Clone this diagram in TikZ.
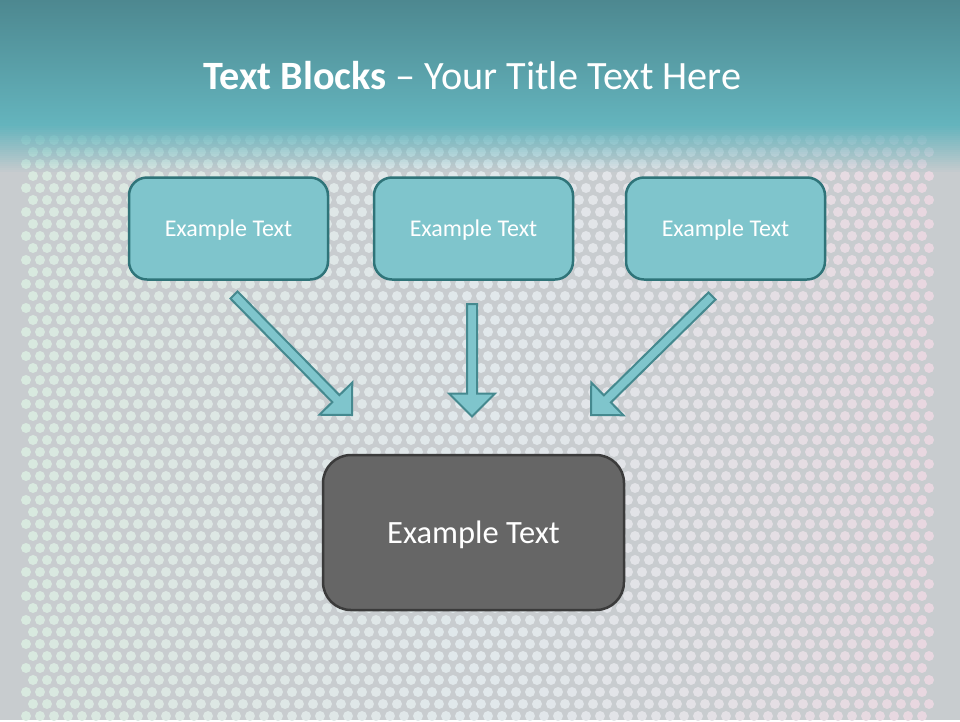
\documentclass[tikz,border=0pt]{standalone}
\usepackage{fontspec}
\setmainfont{Carlito}
\usetikzlibrary{calc,positioning}
\definecolor{bartop}{HTML}{4D8890}
\definecolor{barbot}{HTML}{64B4BD}
\definecolor{slidebg}{HTML}{C8CCCF}
\definecolor{dotmint}{HTML}{D7E9DE}
\definecolor{dotpink}{HTML}{E9D5DF}
\definecolor{dotblue}{HTML}{E1EDF2}
\definecolor{boxfill}{HTML}{7FC5CC}
\definecolor{boxline}{HTML}{2F7479}
\definecolor{arrowline}{HTML}{45898F}
\definecolor{darkfill}{HTML}{666666}
\definecolor{darkline}{HTML}{3B3B3B}

% block arrow from #1 (tail centre) to #2 (tip)
\newcommand{\blockarrow}[2]{%
  \filldraw[arrowbody] ($(#1)!5pt!90:(#2)$)
    -- ($(#2)!23pt!(#1)!5pt!-90:(#1)$)
    -- ($(#2)!23pt!(#1)!23pt!-90:(#1)$)
    -- (#2)
    -- ($(#2)!23pt!(#1)!23pt!90:(#1)$)
    -- ($(#2)!23pt!(#1)!5pt!90:(#1)$)
    -- ($(#1)!5pt!-90:(#2)$) -- cycle;}

\begin{document}
\begin{tikzpicture}[x=1pt, y=-1pt,
  block/.style={draw=boxline, line width=2.5pt, fill=boxfill, rounded corners=18pt, minimum width=199pt, minimum height=102pt, text depth=0pt, text=white, font=\fontsize{24}{28}\selectfont},
  mainblock/.style={draw=darkline, line width=2.5pt, fill=darkfill, rounded corners=28pt, minimum width=301pt, minimum height=155pt, text depth=0pt, text=white, font=\fontsize{32.5}{38}\selectfont},
  arrowbody/.style={draw=arrowline, line width=2pt, fill=boxfill, line join=miter}
]
% background
\fill[slidebg] (0,0) rectangle (960,720);
\foreach \r in {0,...,48}{
  \foreach \c in {0,...,64}{
    \pgfmathsetmacro{\dx}{26+14*\c+7*mod(\r,2)}
    \pgfmathsetmacro{\dm}{int(100-\dx/9.6)}
    \pgfmathsetmacro{\db}{int(35+65*(abs(\dx-480)/480))}
    \fill[dotmint!\dm!dotpink!\db!dotblue] (\dx,{140+12*\r}) circle (5);
  }
}
\shade[top color=bartop, bottom color=barbot] (0,0) rectangle (960,124);
\foreach \i in {0,...,23}
  \fill[barbot, opacity={1-\i/24}] (0,{124+2*\i}) rectangle (960,{126+2*\i});

% title
\node[anchor=base west, text=white, font=\fontsize{40.2}{48}\selectfont, inner sep=0] (title) at (203,89) {\textbf{Text Blocks} – Your Title Text Here};

% blocks
\node[block] (b1) at (228.5,228.5) {Example Text};
\node[block, right=43.5pt of b1] (b2) {Example Text};
\node[block, right=50.5pt of b2] (b3) {Example Text};
\node[mainblock, below=173pt of b2] (main) {Example Text};

% arrows
\coordinate (a1s) at (234,295);
\coordinate (a1t) at (352,415);
\coordinate (a2s) at (472,304);
\coordinate (a2t) at (472,416.5);
\coordinate (a3s) at (712,296);
\coordinate (a3t) at (591,415);
\foreach \s/\t in {a1s/a1t,a2s/a2t,a3s/a3t}
  \blockarrow{\s}{\t};
\end{tikzpicture}
\end{document}
